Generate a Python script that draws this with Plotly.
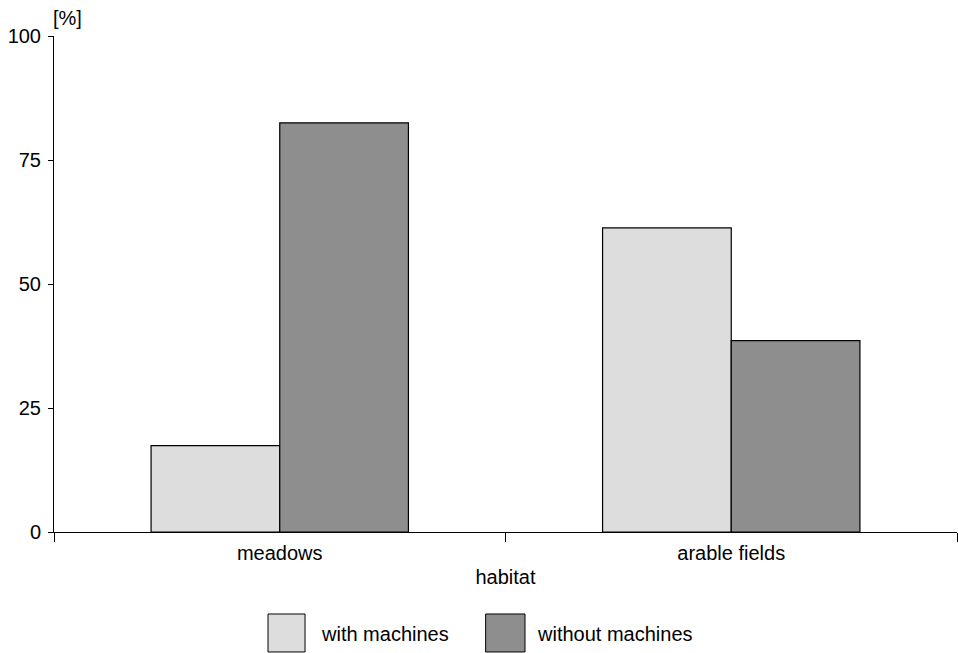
import plotly.graph_objects as go

categories = ["meadows", "arable fields"]
with_machines = [17.4, 61.3]
without_machines = [82.5, 38.6]
series_names = ["with machines", "without machines"]
y_ticks = [0, 25, 50, 75, 100]

FONT = "Liberation Sans, Arial, Helvetica, sans-serif"
LIGHT = "#dddddd"
DARK = "#8e8e8e"

fig = go.Figure()
fig.add_trace(go.Bar(x=categories, y=with_machines, name=series_names[0],
                     marker=dict(color=LIGHT, line=dict(color="black", width=1.2))))
fig.add_trace(go.Bar(x=categories, y=without_machines, name=series_names[1],
                     marker=dict(color=DARK, line=dict(color="black", width=1.2))))

fig.update_layout(
    width=958, height=653,
    margin=dict(l=54, r=1, t=36, b=121, pad=0, autoexpand=False),
    plot_bgcolor="white", paper_bgcolor="white",
    barmode="group", bargap=0.43, bargroupgap=0,
    showlegend=False,
    font=dict(family=FONT, size=20, color="black"),
    xaxis=dict(
        type="category", range=[-0.5, 1.5],
        showline=True, linecolor="black", linewidth=1,
        ticks="outside", tickson="boundaries", ticklen=9, tickcolor="black", tickwidth=1,
        ticklabelstandoff=3,
        showgrid=False, zeroline=False, automargin=False,
        title=dict(text="habitat", standoff=6, font=dict(size=20)),
    ),
    yaxis=dict(
        range=[0, 100], tickvals=y_ticks,
        showline=True, linecolor="black", linewidth=1,
        ticks="outside", ticklen=5, tickcolor="black", tickwidth=1,
        ticklabelstandoff=3, automargin=False,
        showgrid=False, zeroline=False,
    ),
)

# y-axis unit label
fig.add_annotation(text="[%]", xref="paper", yref="paper", x=0.0155, y=1.037,
                   xanchor="center", yanchor="middle", showarrow=False,
                   font=dict(size=20))

# custom legend with large swatches
legend_items = [
    (series_names[0], LIGHT, 0.237, 0.278, 0.2935),
    (series_names[1], DARK, 0.478, 0.5216, 0.5327),
]
for name, color, x0, x1, tx in legend_items:
    fig.add_shape(type="rect", xref="paper", yref="paper", x0=x0, x1=x1,
                  y0=-0.2419, y1=-0.1653, fillcolor=color,
                  line=dict(color="black", width=1))
    fig.add_annotation(text=name, xref="paper", yref="paper", x=tx, y=-0.2056,
                       xanchor="left", yanchor="middle", showarrow=False,
                       font=dict(size=20))

fig.write_html("out.html", config={"displayModeBar": False},
               post_script="document.body.style.margin='0';document.body.style.padding='0';")
